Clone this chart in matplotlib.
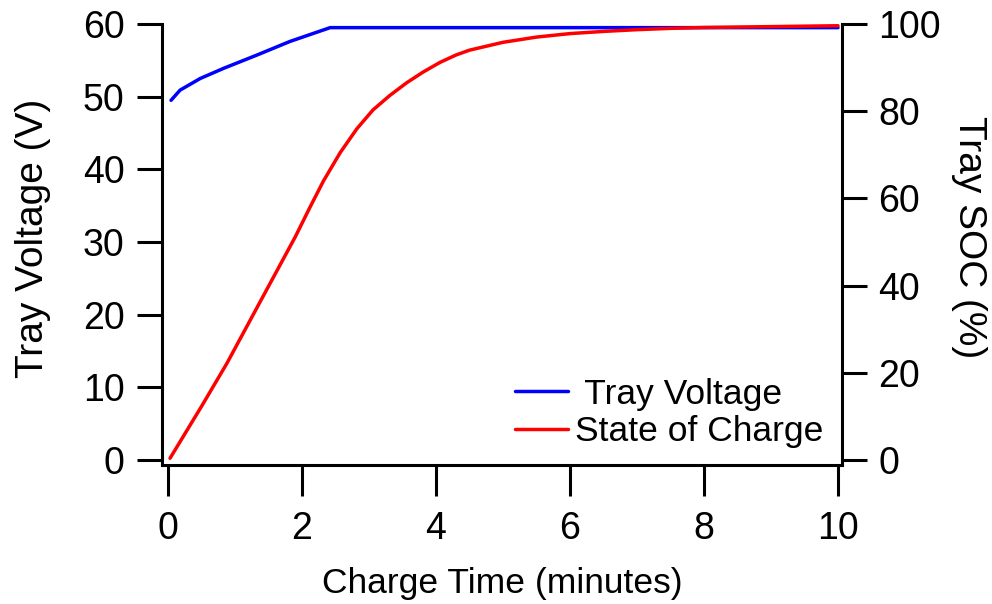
import matplotlib
matplotlib.use("Agg")
import matplotlib.pyplot as plt

plt.rcParams['font.family'] = ['Liberation Sans', 'DejaVu Sans']

# Tray voltage (V) vs charge time (minutes)
volt_time = [0.045, 0.18, 0.48, 0.83, 1.32, 1.82, 2.42, 5.0, 10.0]
volt_vals = [49.5, 50.9, 52.5, 53.9, 55.7, 57.6, 59.5, 59.5, 59.5]

# State of charge (%) vs charge time (minutes)
soc_time = [0.03, 0.5, 0.88, 1.4, 1.9, 2.12, 2.32, 2.57, 2.82, 3.06, 3.31, 3.56,
            3.81, 4.06, 4.3, 4.5, 5.0, 5.5, 6.0, 6.5, 7.0, 7.5, 8.0, 9.0, 10.0]
soc_vals = [0.4, 12.3, 22.2, 37.0, 51.2, 58.0, 64.0, 70.5, 76.0, 80.3, 83.6, 86.5,
            89.0, 91.2, 92.9, 94.0, 95.8, 97.0, 97.8, 98.3, 98.7, 99.0, 99.2, 99.4, 99.6]

x_ticks = [0, 2, 4, 6, 8, 10]
v_ticks = [0, 10, 20, 30, 40, 50, 60]
soc_ticks = [0, 20, 40, 60, 80, 100]

FS_N = 25.5
FS_T = 27
FS_Y = 28
px_n = FS_N * 100 / 72.0

fig = plt.figure(figsize=(9.92, 6.04), dpi=100)
ax = fig.add_axes([162/992, 139/604, 680/992, 441/604])
ax2 = ax.twinx()

l1, = ax.plot(volt_time, volt_vals, color=(0, 0, 1), lw=2.5,
              solid_capstyle='round', solid_joinstyle='round')
l2, = ax2.plot(soc_time, soc_vals, color=(1, 0, 0), lw=2.5,
               solid_capstyle='round', solid_joinstyle='round')

ax.set_xlim(-0.09, 10.06)
ax.set_ylim(-0.69, 60.0)
ax2.set_ylim(-0.69 * 100 / 60, 100.0)

ax.set_xticks(x_ticks)
ax.set_yticks(v_ticks)
ax2.set_yticks(soc_ticks)

for a in (ax, ax2):
    a.spines['top'].set_visible(False)
    for s in a.spines.values():
        s.set_linewidth(2.2)
ax.spines['right'].set_visible(False)
ax2.spines['left'].set_visible(False)
ax2.spines['bottom'].set_visible(False)

ax.tick_params(axis='x', direction='out', length=22, width=2.2, pad=11, labelsize=FS_T)
ax.tick_params(axis='y', direction='out', length=18, width=2.2, pad=9, labelsize=FS_T)
ax2.tick_params(axis='y', direction='out', length=18, width=2.2, pad=8, labelsize=FS_T)

ax.set_xlabel('Charge Time (minutes)', fontsize=FS_N, va='baseline')
ax.xaxis.set_label_coords(0.5, (465 - 593) / 441)
ax.set_ylabel('Tray Voltage (V)', fontsize=FS_Y, va='center', ha='center')
ax.yaxis.set_label_coords((33 - 162) / 680, (465 - 238) / 441)
ax2.set_ylabel('Tray SOC (%)', fontsize=FS_Y, rotation=270, va='center', ha='center')
ax2.yaxis.set_label_coords((969 - 162) / 680, (465 - 237) / 441)

leg = ax.legend([l1, l2], [' Tray Voltage', 'State of Charge'],
                loc='center left', bbox_to_anchor=(0.519, 0.118),
                frameon=False, prop={'size': FS_N},
                handlelength=53 / px_n, handletextpad=7 / px_n,
                labelspacing=0.12, borderpad=0, borderaxespad=0)

fig.savefig('out.png', dpi=100)
